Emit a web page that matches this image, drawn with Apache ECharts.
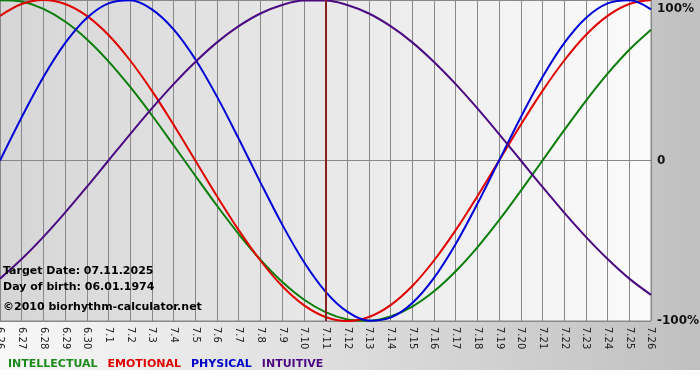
<!DOCTYPE html>
<html>
<head>
<meta charset="utf-8">
<script src="https://cdn.jsdelivr.net/npm/echarts@6/dist/echarts.min.js"></script>
<style>html,body{margin:0;padding:0;background:#fff}#c{width:700px;height:380px}</style>
</head>
<body>
<div id="c"></div>
<script>
var days = ['6.26','6.27','6.28','6.29','6.30','7.1','7.2','7.3','7.4','7.5','7.6','7.7','7.8','7.9','7.10','7.11','7.12','7.13','7.14','7.15','7.16','7.17','7.18','7.19','7.20','7.21','7.22','7.23','7.24','7.25','7.26'];
var intellectual = [0.999, 0.990, 0.945, 0.866, 0.756, 0.618, 0.458, 0.282, 0.095, -0.095, -0.282, -0.458, -0.618, -0.756, -0.866, -0.945, -0.990, -0.999, -0.972, -0.910, -0.815, -0.690, -0.541, -0.372, -0.189, 0.000, 0.189, 0.372, 0.541, 0.690, 0.815];
var emotional = [0.901, 0.975, 1.000, 0.975, 0.901, 0.782, 0.623, 0.434, 0.223, 0.000, -0.223, -0.434, -0.623, -0.782, -0.901, -0.975, -1.000, -0.975, -0.901, -0.782, -0.623, -0.434, -0.223, 0.000, 0.223, 0.434, 0.623, 0.782, 0.901, 0.975, 1.000];
var physical = [0.000, 0.270, 0.520, 0.731, 0.888, 0.979, 0.998, 0.942, 0.817, 0.631, 0.398, 0.136, -0.136, -0.398, -0.631, -0.817, -0.942, -0.998, -0.979, -0.888, -0.731, -0.520, -0.270, 0.000, 0.270, 0.520, 0.731, 0.888, 0.979, 0.998, 0.942];
var intuitive = [-0.736, -0.614, -0.476, -0.325, -0.165, 0.000, 0.165, 0.325, 0.476, 0.614, 0.736, 0.837, 0.916, 0.969, 0.997, 0.997, 0.969, 0.916, 0.837, 0.736, 0.614, 0.476, 0.325, 0.165, 0.000, -0.165, -0.325, -0.476, -0.614, -0.736, -0.837];
var seriesNames = ['INTELLECTUAL','EMOTIONAL','PHYSICAL','INTUITIVE'];
var seriesColors = ['#0b7d0b','#e00000','#0000d8','#4b0a82'];
var legendColors = ['#1a8a1a','#e00000','#0000c8','#4b0a82'];
var yTicks = {'-1':'-100%','0':'0','1':'100%'};
var targetDay = '7.11';
var infoLines = ['Target Date: 07.11.2025','Day of birth: 06.01.1974','\u00a92010 biorhythm-calculator.net'];

var chart = echarts.init(document.getElementById('c'), null, {renderer:'canvas'});
var dataSets = [intellectual, emotional, physical, intuitive];
var series = dataSets.map(function(d, i){
  return {
    name: seriesNames[i], type:'line', data:d, smooth:0.35, showSymbol:false, symbol:'none',
    lineStyle:{color:seriesColors[i], width:2}, itemStyle:{color:seriesColors[i]}, silent:true, animation:false
  };
});
series[0].markLine = {
  silent:true, symbol:'none', animation:false,
  label:{show:false},
  lineStyle:{color:'#862222', width:2, type:'solid'},
  data:[{xAxis:targetDay}]
};
chart.setOption({
  animation:false,
  backgroundColor:{type:'linear',x:0,y:0,x2:1,y2:0,colorStops:[{offset:0,color:'#f8f8f8'},{offset:1,color:'#c0c0c0'}]},
  grid:{left:0, top:0, right:49, bottom:59, show:true, containLabel:false, outerBoundsMode:'none',
    backgroundColor:{type:'linear',x:0,y:0,x2:1,y2:0,colorStops:[{offset:0,color:'#d6d6d6'},{offset:1,color:'#fbfbfb'}]},
    borderColor:'#888', borderWidth:1},
  legend:{
    left:-2, top:354, itemWidth:0, itemHeight:0, itemGap:5, icon:'none', selectedMode:false,
    data: seriesNames.map(function(n,i){return {name:n, textStyle:{color:legendColors[i]}};}),
    textStyle:{fontFamily:'DejaVu Sans', fontWeight:'bold', fontSize:11, padding:0}
  },
  xAxis:{
    type:'category', data:days, boundaryGap:false,
    axisLine:{show:true, lineStyle:{color:'#888'}},
    axisTick:{show:true, length:5, alignWithLabel:true, lineStyle:{color:'#888'}},
    axisLabel:{rotate:-90, fontSize:10, fontFamily:'DejaVu Sans', color:'#222', margin:6, interval:0},
    splitLine:{show:true, lineStyle:{color:'#888', width:1}}
  },
  yAxis:{
    type:'value', position:'right', min:-1, max:1, interval:1,
    axisLine:{show:false}, axisTick:{show:false},
    axisLabel:{fontSize:12, fontWeight:'bold', fontFamily:'DejaVu Sans', color:'#111', margin:6,
      verticalAlignMaxLabel:'top', padding:[3,0,0,0],
      formatter:function(v){ return yTicks[String(v)] !== undefined ? yTicks[String(v)] : ''; }},
    splitLine:{show:true, lineStyle:{color:'#888', width:1}}
  },
  graphic:[
    {type:'rect', left:0, top:370, shape:{width:700, height:10}, style:{fill:'#ffffff'}, silent:true},
    {type:'text', left:3, top:266, style:{text:infoLines[0], font:'bold 11px "DejaVu Sans"', fill:'#000'}, z:100},
    {type:'text', left:3, top:282, style:{text:infoLines[1], font:'bold 11px "DejaVu Sans"', fill:'#000'}, z:100},
    {type:'text', left:3, top:302, style:{text:infoLines[2], font:'bold 11px "DejaVu Sans"', fill:'#000'}, z:100}
  ],
  series:series
});
</script>
</body>
</html>
